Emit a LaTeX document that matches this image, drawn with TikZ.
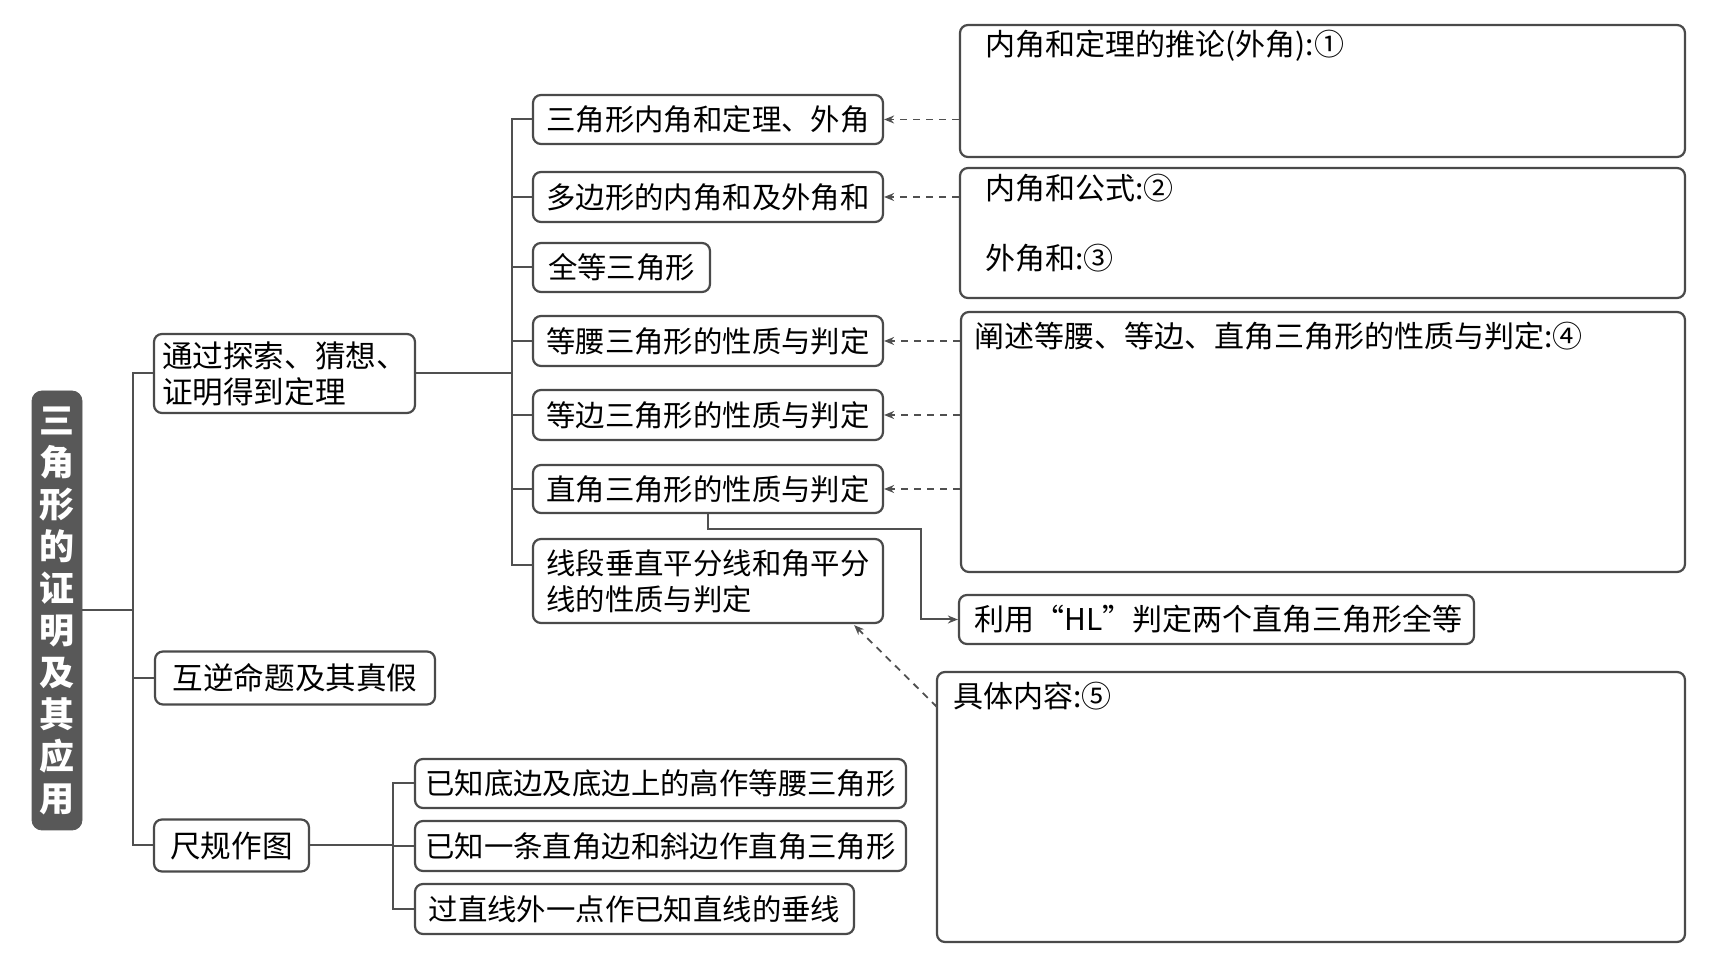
\documentclass[tikz,border=0pt]{standalone}
\usepackage{fontspec}
\newfontfamily\cjk{Noto Sans CJK SC}
\usetikzlibrary{arrows.meta,calc}
\definecolor{linec}{HTML}{505050}
\definecolor{boxc}{HTML}{4A4A4A}
\definecolor{titlec}{HTML}{585858}
\begin{document}
\begin{tikzpicture}[x=0.5pt,y=-0.5pt,
  lc/.style={draw=linec, line width=1pt},
  box/.style={draw=boxc, line width=1.1pt, rounded corners=4pt, inner xsep=6pt, inner ysep=0pt,
    font=\cjk\fontsize{14.7pt}{18pt}\selectfont, text=black},
  lbox/.style={box, font=\cjk\fontsize{15.3pt}{18pt}\selectfont},
  bigbox/.style={draw=boxc, line width=1.1pt, rounded corners=4pt, inner sep=0pt},
  rtext/.style={anchor=west, inner sep=0pt, font=\cjk\fontsize{15pt}{18pt}\selectfont, text=black},
  darr/.style={draw=linec, line width=0.9pt, dash pattern=on 3.5pt off 3pt, -{Stealth[length=5pt,width=4pt]}},
  sarr/.style={draw=linec, line width=1pt, -{Stealth[length=5pt,width=4pt]}},
  titlebox/.style={fill=titlec, draw=titlec, rounded corners=5pt, text=white, align=center,
    font=\cjk\bfseries\fontsize{17.5pt}{21pt}\selectfont, inner sep=0pt}
]
\useasboundingbox (0,0) rectangle (1710,956);

% title
\node[titlebox, minimum width=25pt, minimum height=219.5pt] (T) at (57,610.5)
  {三\\角\\形\\的\\证\\明\\及\\其\\应\\用};

% level 1
\node[lbox, minimum width=130.5pt, minimum height=39.5pt, align=left, inner xsep=3.5pt] (L1a) at (284.5,373.5)
  {通过探索、猜想、\\证明得到定理};
\node[lbox, minimum width=140pt, minimum height=26.5pt] (L1b) at (295,678) {互逆命题及其真假};
\node[lbox, minimum width=77.5pt, minimum height=26pt] (L1c) at (231.5,845.5) {尺规作图};

% level 2
\node[box, minimum width=175pt, minimum height=24.5pt] (B1) at (708,119.5) {三角形内角和定理、外角};
\node[box, minimum width=175pt, minimum height=25pt] (B2) at (708,197) {多边形的内角和及外角和};
\node[box, minimum width=88.5pt, minimum height=24.5pt] (B3) at (621.5,267.5) {全等三角形};
\node[box, minimum width=175pt, minimum height=25pt] (B4) at (708,341) {等腰三角形的性质与判定};
\node[box, minimum width=175pt, minimum height=25pt] (B5) at (708,415) {等边三角形的性质与判定};
\node[box, minimum width=175pt, minimum height=24pt] (B6) at (708,489) {直角三角形的性质与判定};
\node[box, minimum width=175pt, minimum height=42pt, align=left] (B7) at (708,581)
  {线段垂直平分线和角平分\\线的性质与判定};

% level 3
\node[box, minimum width=245.5pt, minimum height=24.5pt, inner xsep=4pt] (C1) at (660.5,783.5) {已知底边及底边上的高作等腰三角形};
\node[box, minimum width=245.5pt, minimum height=25pt, inner xsep=4pt] (C2) at (660.5,846) {已知一条直角边和斜边作直角三角形};
\node[box, minimum width=219.5pt, minimum height=25pt, inner xsep=4pt] (C3) at (634.5,909) {过直线外一点作已知直线的垂线};

% right boxes
\node[bigbox, minimum width=362.5pt, minimum height=66pt] (RA) at (1322.5,91) {};
\node[bigbox, minimum width=362.5pt, minimum height=65pt] (RB) at (1322.5,233) {};
\node[bigbox, minimum width=362pt, minimum height=130pt] (RC) at (1323,442) {};
\node[box, minimum width=257.5pt, minimum height=24.5pt, inner xsep=0pt] (HL) at (1216.5,619.5) {};
\node[bigbox, minimum width=374pt, minimum height=135pt] (RD) at (1311,807) {};

\node[rtext] (tA) at (985,46) {内角和定理的推论(外角):①};
\node[rtext] (tB1) at (985,188) {内角和公式:②};
\node[rtext] (tB2) at (985,258) {外角和:③};
\node[rtext] (tC) at (974,336) {阐述等腰、等边、直角三角形的性质与判定:④};
\node[rtext] (tHL) at (974,619.5) {利用“HL”判定两个直角三角形全等};
\node[rtext] (tD) at (953,696) {具体内容:⑤};

% trunks
\coordinate (k1) at (133,0);
\coordinate (k2) at (512,0);
\coordinate (k3) at (393,0);
\coordinate (b7in) at (533,565);

\draw[lc] (T.east) -- (T.east -| k1);
\draw[lc] (L1a.west) -- (L1a.west -| k1) |- (L1c.west);
\draw[lc] (L1b.west) -- (L1b.west -| k1);

\draw[lc] (L1a.east) -- (L1a.east -| k2);
\draw[lc] (B1.west) -- (B1.west -| k2) |- (b7in);
\foreach \n in {B2,B3,B4,B5,B6} \draw[lc] (\n.west) -- (\n.west -| k2);

\draw[lc] (L1c.east) -- (L1c.east -| k3);
\draw[lc] (C1.west) -- (C1.west -| k3) |- (C3.west);
\draw[lc] (C2.west) -- (C2.west -| k3);

% dashed arrows
\draw[darr] (RA.west |- B1.east) -- (B1.east);
\draw[darr] (RB.west |- B2.east) -- (B2.east);
\draw[darr] (RC.west |- B4.east) -- (B4.east);
\draw[darr] (RC.west |- B5.east) -- (B5.east);
\draw[darr] (RC.west |- B6.east) -- (B6.east);
\coordinate (d1) at (937,707);
\draw[darr] (d1) -- ($(B7.south east)+(-30,1)$);

% HL arrow
\coordinate (h1) at (921,529);
\draw[sarr] (B6.south) |- (h1) |- (HL.west);
\end{tikzpicture}
\end{document}
